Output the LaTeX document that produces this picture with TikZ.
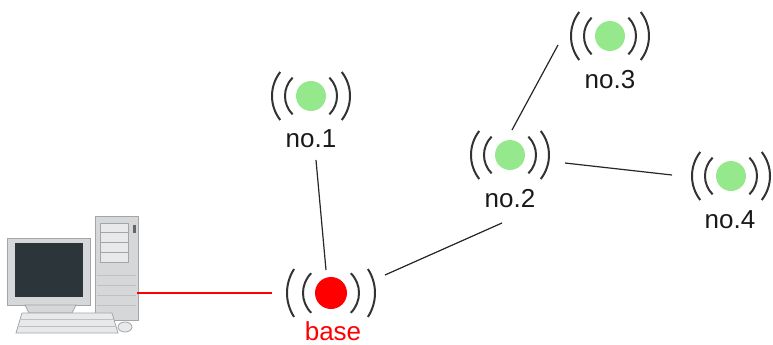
\documentclass[tikz,border=0pt]{standalone}
\usepackage{fontspec}
\setmainfont{Liberation Sans}
\usepackage{tikz}
\usepackage{color}
\definecolor{SensorGreen}{HTML}{96E88C}
\definecolor{BaseRed}{HTML}{FF0000}
\definecolor{WaveGray}{HTML}{333333}
\definecolor{PcGray}{HTML}{D6D7D9}
\definecolor{PcLight}{HTML}{E8E9EB}
\definecolor{PcEdge}{HTML}{A3A5A8}
\definecolor{ScreenDark}{HTML}{2C363A}

\tikzset{
  sensor/.style={circle, fill=SensorGreen, minimum size=15pt, inner sep=0pt},
  basedot/.style={circle, fill=BaseRed, minimum size=16pt, inner sep=0pt},
  tag/.style={font=\fontsize{13}{15}\selectfont, text=black!90, inner sep=0pt},
  wave/.style={draw=WaveGray, line width=1pt},
  link/.style={draw=black!85, line width=0.6pt},
  wire/.style={draw=BaseRed, line width=0.7pt},
}

% two pairs of radio arcs round a dot: node, inner radius, outer radius, outer half angle
\newcommand{\Waves}[4]{%
  \draw[wave] ([shift={(135:#2)}]#1.center) arc[start angle=135, end angle=225, radius=#2];
  \draw[wave] ([shift={(-45:#2)}]#1.center) arc[start angle=-45, end angle=45, radius=#2];
  \draw[wave] ([shift={(180-#4:#3)}]#1.center) arc[start angle=180-#4, end angle=180+#4, radius=#3];
  \draw[wave] ([shift={(-#4:#3)}]#1.center) arc[start angle=-#4, end angle=#4, radius=#3];
}

\begin{document}
\begin{tikzpicture}[x=0.5pt, y=-0.5pt]
        \useasboundingbox (0,0) rectangle (773,344);

        % the computer
        \filldraw[fill=PcGray, draw=PcEdge] (7,238) rectangle (90,305);
        \fill[ScreenDark] (15,243) rectangle (83,297);
        \filldraw[fill=PcGray, draw=PcEdge] (25,305) -- (76,305) -- (72,313) -- (29,313) -- cycle;
        \filldraw[fill=PcGray, draw=PcEdge] (95,216) rectangle (138,320);
        \filldraw[fill=PcLight, draw=PcEdge] (100,223) rectangle (128,262);
        \draw[PcEdge] (100,232) -- (128,232) (100,242) -- (128,242) (100,252) -- (128,252);
        \fill[black!60] (133,225) rectangle (136,233);
        \draw[PcEdge!70] (97,275) -- (136,275) (97,285) -- (136,285) (97,295) -- (136,295) (97,305) -- (136,305);
        \filldraw[fill=PcLight, draw=PcEdge] (22,313) -- (112,313) -- (118,333) -- (16,333) -- cycle;
        \draw[PcEdge!70] (21,319) -- (114,319) (19,326) -- (116,326);
        \filldraw[fill=PcLight, draw=PcEdge] (125,327) ellipse [x radius=7, y radius=5];
        \node[minimum width=65pt, minimum height=59pt, inner sep=0pt] (pc) at (72,274) {};

        % sensors
        \node[sensor] (n1) at (311,96) {};
        \node[sensor] (n2) at (510,155) {};
        \node[sensor] (n3) at (610,36) {};
        \node[sensor] (n4) at (731,176) {};
        \node[basedot] (base) at (331,293) {};
        \Waves{n1}{26}{39}{38}
        \Waves{n2}{26}{39}{38}
        \Waves{n3}{26}{39}{38}
        \Waves{n4}{26}{39}{38}
        \Waves{base}{28}{44}{33}

        \node[tag] (l1) at (311,139) {no.1};
        \node[tag] (l2) at (510,199) {no.2};
        \node[tag] (l3) at (610,80) {no.3};
        \node[tag] (l4) at (730,220) {no.4};
        \node[tag, text=BaseRed] (lb) at (333,331) {base};

        % links
        \draw[wire] (pc.east |- base) -- ([shift={(-59,0)}]base.center);
        \draw[link] ([shift={(5,64)}]n1.center) -- ([shift={(-5,-23)}]base.center);
        \draw[link] ([shift={(54,-18)}]base.center) -- ([shift={(-8,68)}]n2.center);
        \draw[link] ([shift={(2,-25)}]n2.center) -- ([shift={(-52,9)}]n3.center);
        \draw[link] ([shift={(55,8)}]n2.center) -- ([shift={(-59,-1)}]n4.center);
      \end{tikzpicture}
\end{document}
